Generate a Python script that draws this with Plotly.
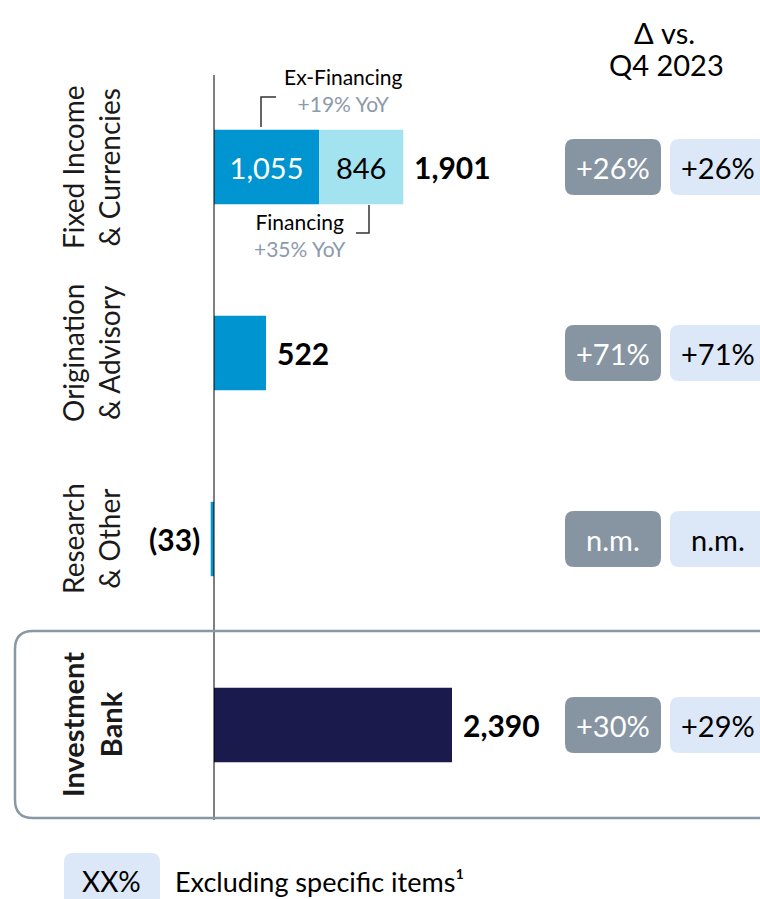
import plotly.graph_objects as go

# --- data ---
categories = ["Fixed Income<br>& Currencies", "Origination<br>& Advisory",
              "Research<br>& Other", "<b>Investment<br>Bank</b>"]
cat_keys = ["FIC", "OA", "RO", "IB"]
base_values = [1055, 522, -33, 2390]      # ex-financing for FIC
financing_values = [846, None, None, None]
totals = [1901, 522, -33, 2390]
total_labels = ["1,901", "522", "(33)", "2,390"]
delta_reported = ["+26%", "+71%", "n.m.", "+30%"]
delta_adjusted = ["+26%", "+71%", "n.m.", "+29%"]

W, H = 760, 899
BLUE = "#0094d1"
CYAN = "#a3e3f0"
NAVY = "#1b1a4d"
PILL_GREY = "#8794a1"
PILL_LIGHT = "#dce8f8"
GREY_TXT = "#8c9aab"
FONT = "Lato"

# screen-pixel mapping (margins are zero, body margin removed below)
X0_PX = 214
K = 238 / 2390            # px per unit
Y0_PX, DY = 167, 186


def px(x):
    return x / W


def py(y):
    return 1 - y / H


def rrect(x0, y0, x1, y1, r):
    a, b, c, d = px(x0), px(x1), py(y0), py(y1)
    rx, ry = r / W, r / H
    return (f"M{a+rx},{c} L{b-rx},{c} Q{b},{c} {b},{c-ry} L{b},{d+ry} Q{b},{d} {b-rx},{d} "
            f"L{a+rx},{d} Q{a},{d} {a},{d+ry} L{a},{c-ry} Q{a},{c} {a+rx},{c} Z")


def label(x, y, text, size, color="black", xanchor="center", **kw):
    return dict(x=x, y=y, text=text, showarrow=False, xanchor=xanchor, yanchor="middle",
                font=dict(family=FONT, size=size, color=color), **kw)


fig = go.Figure()
fig.add_trace(go.Bar(
    y=cat_keys, x=base_values, orientation="h", width=0.4,
    marker=dict(color=[BLUE, BLUE, BLUE, NAVY], line=dict(width=0)),
    text=["1,055", "", "", ""], textposition="inside", insidetextanchor="middle",
    textfont=dict(family=FONT, size=29, color="white"), hoverinfo="skip",
))
fig.add_trace(go.Bar(
    y=cat_keys, x=financing_values, orientation="h", width=0.4,
    marker=dict(color=CYAN, line=dict(width=0)),
    text=["846", "", "", ""], textposition="inside", insidetextanchor="middle",
    textfont=dict(family=FONT, size=29, color="black"), hoverinfo="skip",
))

shapes = []
ann = []

# axis line
shapes.append(dict(type="line", xref="x", yref="paper", x0=0, x1=0,
                   y0=py(75), y1=py(820), line=dict(color="black", width=1)))

# investment bank frame
shapes.append(dict(type="path", xref="paper", yref="paper",
                   path=rrect(15, 631, 790, 818, 18),
                   line=dict(color="#8a97a5", width=2.5), fillcolor="rgba(0,0,0,0)"))

for i, key in enumerate(cat_keys):
    cy = Y0_PX + DY * i
    size = 29 if i == 3 else 28
    ann.append(label(px(91), key, categories[i], size, "#1a1a1a",
                     xref="paper", yref="y", textangle=-90, align="center"))
    if totals[i] >= 0:
        ann.append(label(totals[i], key, f"<b>{total_labels[i]}</b>", 30,
                         xanchor="left", xshift=9))
    else:
        ann.append(label(totals[i], key, f"<b>{total_labels[i]}</b>", 30,
                         xanchor="right", xshift=-9))
    # pills
    shapes.append(dict(type="path", xref="paper", yref="paper",
                       path=rrect(565, cy - 28, 661, cy + 28, 9),
                       fillcolor=PILL_GREY, line=dict(width=0), layer="below"))
    shapes.append(dict(type="path", xref="paper", yref="paper",
                       path=rrect(670, cy - 28, 775, cy + 28, 9),
                       fillcolor=PILL_LIGHT, line=dict(width=0), layer="below"))
    ann.append(label(px(613), key, delta_reported[i], 29, "white", xref="paper", yref="y"))
    ann.append(label(px(718), key, delta_adjusted[i], 29, "black", xref="paper", yref="y"))

# header
ann.append(label(px(664), py(33), "Δ vs.", 29, xref="paper", yref="paper"))
ann.append(label(px(666), py(64), "Q4 2023", 29, xref="paper", yref="paper"))

# FIC split annotations
ann.append(label(px(343), py(90),
                 f"Ex-Financing<br><span style='color:{GREY_TXT}'>+19% YoY</span>", 21,
                 xref="paper", yref="paper"))
ann.append(label(px(300), py(235),
                 f"Financing<br><span style='color:{GREY_TXT}'>+35% YoY</span>", 21,
                 xref="paper", yref="paper"))
shapes.append(dict(type="path", xref="paper", yref="paper",
                   path=f"M{px(261)},{py(127)} L{px(261)},{py(97)} L{px(276)},{py(97)}",
                   line=dict(color="#333333", width=1.5)))
shapes.append(dict(type="path", xref="paper", yref="paper",
                   path=f"M{px(369)},{py(205)} L{px(369)},{py(233)} L{px(356)},{py(233)}",
                   line=dict(color="#333333", width=1.5)))

# legend
shapes.append(dict(type="path", xref="paper", yref="paper",
                   path=rrect(64, 853, 160, 915, 9),
                   fillcolor=PILL_LIGHT, line=dict(width=0)))
ann.append(label(px(112), py(881), "XX%", 28, xref="paper", yref="paper"))
ann.append(label(px(173), py(881), "Excluding specific items¹", 27, xanchor="left",
                 xref="paper", yref="paper"))

fig.update_layout(
    width=W, height=H, margin=dict(l=0, r=0, t=0, b=0),
    plot_bgcolor="white", paper_bgcolor="white",
    barmode="relative", showlegend=False,
    xaxis=dict(range=[-X0_PX / K, (W - X0_PX) / K], visible=False, fixedrange=True),
    yaxis=dict(type="category", categoryarray=cat_keys,
               range=[(H - Y0_PX) / DY, -Y0_PX / DY], visible=False, fixedrange=True),
    shapes=shapes, annotations=ann,
    font=dict(family=FONT),
)

fig.write_html("out.html", config={"displayModeBar": False},
               post_script="document.body.style.margin='0';document.body.style.overflow='hidden';")
